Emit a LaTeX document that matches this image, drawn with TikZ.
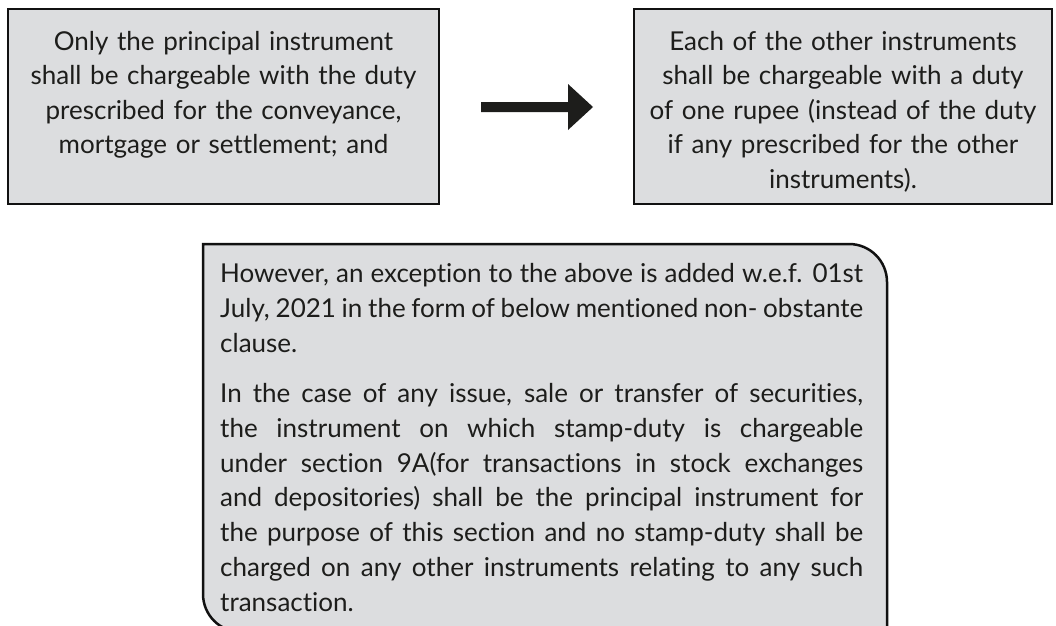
\documentclass[tikz,border=0pt]{standalone}
\usepackage{fontspec}
\setmainfont{Lato}[Ligatures={NoCommon,NoRare}]
\definecolor{boxfill}{HTML}{DCDDDF}
\definecolor{ink}{HTML}{1D1D1B}
\definecolor{edge}{HTML}{111111}
\tikzset{
  topbox/.style={draw=edge, line width=2.5pt, fill=boxfill, inner sep=0pt},
  toptext/.style={text=ink, align=center, text width=425pt, inner sep=0pt, anchor=base,
    font=\fontsize{26}{34.5}\selectfont},
  bodytext/.style={text=ink, align=justify, text width=643pt, inner sep=0pt, anchor=base west,
    font=\fontsize{26}{34.7}\selectfont},
  blockarrow/.style={fill=ink, draw=none}
}
\begin{document}
\begin{tikzpicture}[x=1pt,y=-1pt]
\useasboundingbox (0,0) rectangle (1056,625);
\clip (0,0) rectangle (1056,625);
% top boxes
\node[topbox, minimum width=431pt, minimum height=195pt] (L) at (223.5,106.5) {};
\node[topbox, minimum width=418pt, minimum height=195pt] (R) at (843,106.5) {};
\node[toptext] (Ltext) at (223.5,50) {Only the principal instrument\\shall be chargeable with the duty\\prescribed for the conveyance,\\mortgage or settlement; and};
\node[toptext] (Rtext) at (843,50) {Each of the other instruments\\shall be chargeable with a duty\\of one rupee (instead of the duty\\if any prescribed for the other\\instruments).};
% block arrow
\coordinate (a1) at (481,102);
\coordinate (a2) at (568,102);
\coordinate (a3) at (568,84);
\coordinate (a4) at (593,107);
\coordinate (a5) at (568,130);
\coordinate (a6) at (568,112);
\coordinate (a7) at (481,112);
\fill[blockarrow] (a1) -- (a2) -- (a3) -- (a4) -- (a5) -- (a6) -- (a7) -- cycle;
% bottom box
\draw[topbox] (203,244) -- (849,244) .. controls (870,244) and (887,261) .. (887,282)
  -- (887,632) -- (241,632) .. controls (220,632) and (203,615) .. (203,594) -- cycle;
\node[bodytext] (B) at (220,282.7) {\parindent=0pt\parskip=16pt\tolerance=10000\hyphenpenalty=10000
However, an exception to the above is added w.e.f. 01st\linebreak
July, 2021 in the form of below mentioned non- obstante\linebreak
clause.\par
In the case of any issue, sale or transfer of securities,\linebreak
the instrument on which stamp-duty is chargeable\linebreak
under section 9A(for transactions in stock exchanges\linebreak
and depositories) shall be the principal instrument for\linebreak
the purpose of this section and no stamp-duty shall be\linebreak
charged on any other instruments relating to any such\linebreak
transaction.\par};
\end{tikzpicture}
\end{document}
